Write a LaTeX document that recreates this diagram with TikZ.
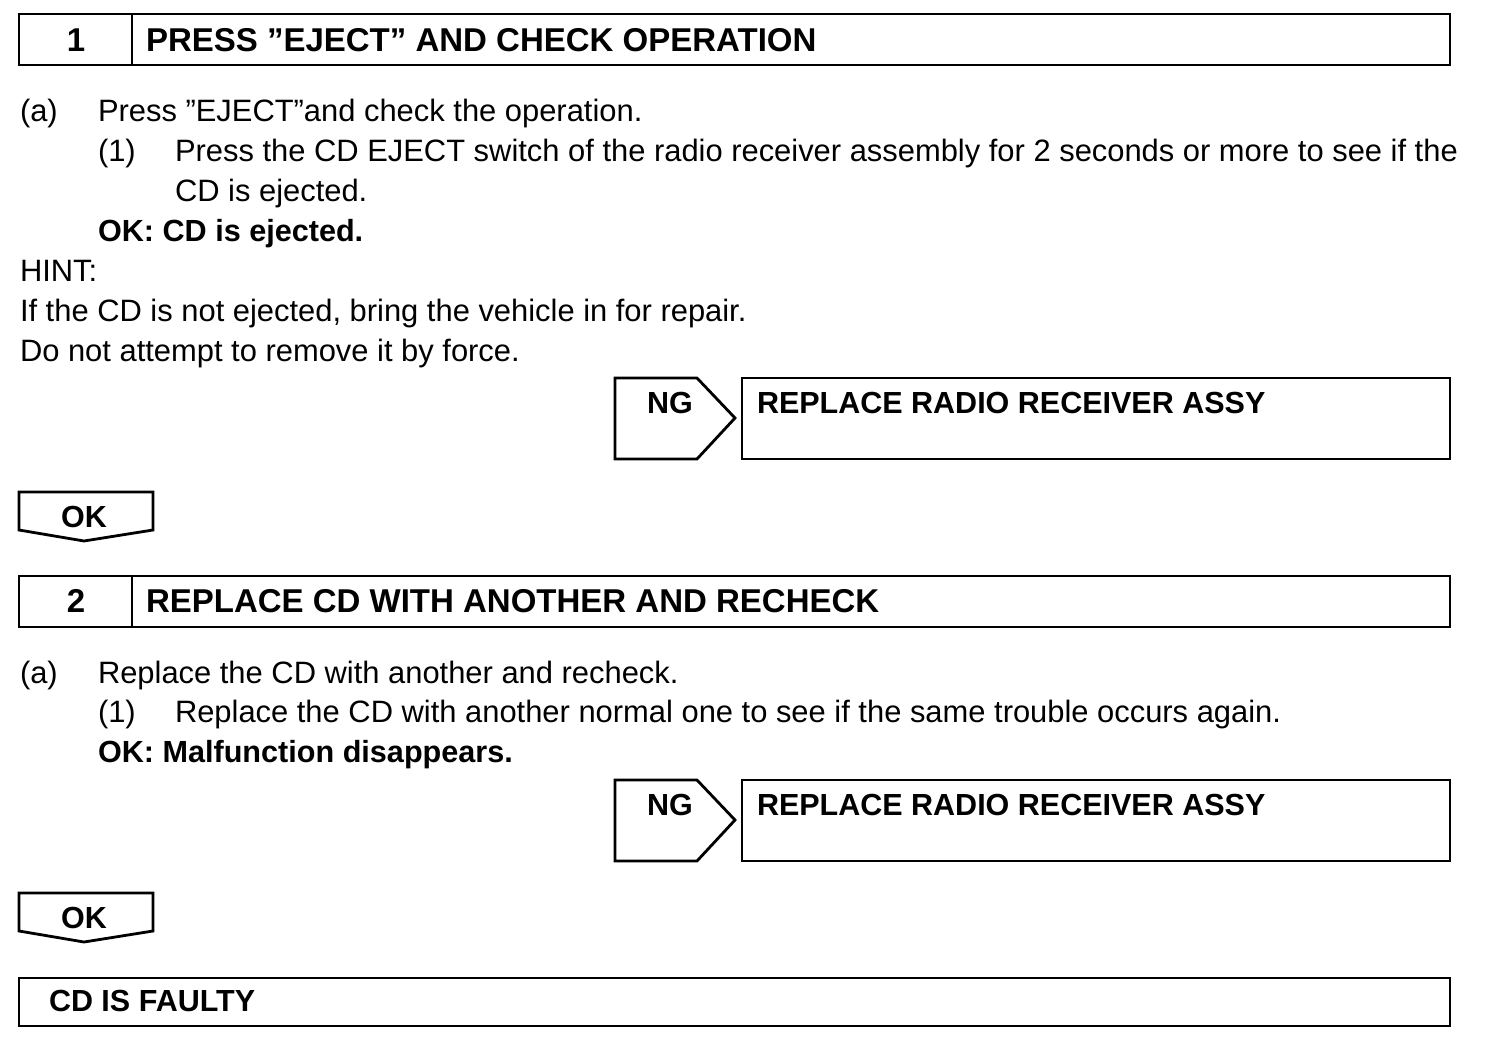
\documentclass[tikz,border=0pt]{standalone}
\usepackage{fontspec}
\setmainfont{Liberation Sans}

\begin{document}
\begin{tikzpicture}[
        x=1pt, y=-1pt,
        every node/.style={inner sep=0pt, outer sep=0pt, font=\fontsize{30.9}{36}\selectfont},
        frame/.style={draw, line width=2.8pt},
        stepbox/.style={frame, anchor=north west, minimum width=1431pt, minimum height=51pt},
        resultbox/.style={frame, anchor=north west, minimum width=708pt, minimum height=81pt},
        head/.style={anchor=base west, font=\fontsize{33}{38}\selectfont\bfseries},
        title/.style={anchor=base west, font=\fontsize{30.5}{36}\selectfont\bfseries},
        body/.style={anchor=base west},
        verdict/.style={anchor=base west, font=\fontsize{30.6}{36}\selectfont\bfseries}
    ]
        \useasboundingbox (0,0) rectangle (1504,1044);

        % Step 1
        \node[stepbox] (step1) at (19,14) {};
        \draw[frame] (132,14) -- (132,65);
        \node[head, anchor=base] (num1) at (76,51) {1};
        \node[head] (head1) at (146,51) {PRESS ”EJECT” AND CHECK OPERATION};

        \node[body] (a1) at (20,121) {(a)};
        \node[body] (a1txt) at (98,121) {Press ”EJECT”and check the operation.};
        \node[body] (s1) at (98,161) {(1)};
        \node[body] (s1txt) at (175,161) {Press the CD EJECT switch of the radio receiver assembly for 2 seconds or more to see if the};
        \node[body] (s1txtb) at (175,201) {CD is ejected.};
        \node[verdict] (ok1txt) at (98,241) {OK: CD is ejected.};
        \node[body] (hint) at (20,281) {HINT:};
        \node[body] (hint1) at (20,321) {If the CD is not ejected, bring the vehicle in for repair.};
        \node[body] (hint2) at (20,361) {Do not attempt to remove it by force.};

        % NG branch 1
        \draw[frame] (615,378) -- (697,378) -- (735,418) -- (697,459) -- (615,459) -- cycle;
        \node[title, anchor=base] (ng1) at (670,413) {NG};
        \node[resultbox] (fix1) at (742,378) {};
        \node[title] (fix1txt) at (757,413) {REPLACE RADIO RECEIVER ASSY};

        % OK tag 1
        \draw[frame] (19,492) -- (153,492) -- (153,530) -- (84,541) -- (19,530) -- cycle;
        \node[title, anchor=base] (ok1) at (84,527) {OK};

        % Step 2
        \node[stepbox] (step2) at (19,576) {};
        \draw[frame] (132,576) -- (132,626);
        \node[head, anchor=base] (num2) at (76,612) {2};
        \node[head] (head2) at (146,612) {REPLACE CD WITH ANOTHER AND RECHECK};

        \node[body] (a2) at (20,683) {(a)};
        \node[body] (a2txt) at (98,683) {Replace the CD with another and recheck.};
        \node[body] (s2) at (98,722) {(1)};
        \node[body] (s2txt) at (175,722) {Replace the CD with another normal one to see if the same trouble occurs again.};
        \node[verdict] (ok2txt) at (98,762) {OK: Malfunction disappears.};

        % NG branch 2
        \draw[frame] (615,780) -- (697,780) -- (735,820) -- (697,861) -- (615,861) -- cycle;
        \node[title, anchor=base] (ng2) at (670,815) {NG};
        \node[resultbox] (fix2) at (742,780) {};
        \node[title] (fix2txt) at (757,815) {REPLACE RADIO RECEIVER ASSY};

        % OK tag 2
        \draw[frame] (19,893) -- (153,893) -- (153,931) -- (84,942) -- (19,931) -- cycle;
        \node[title, anchor=base] (ok2) at (84,928) {OK};

        % Result
        \node[stepbox, minimum height=48pt] (result) at (19,978) {};
        \node[title] (resulttxt) at (49,1011) {CD IS FAULTY};
    \end{tikzpicture}
\end{document}
